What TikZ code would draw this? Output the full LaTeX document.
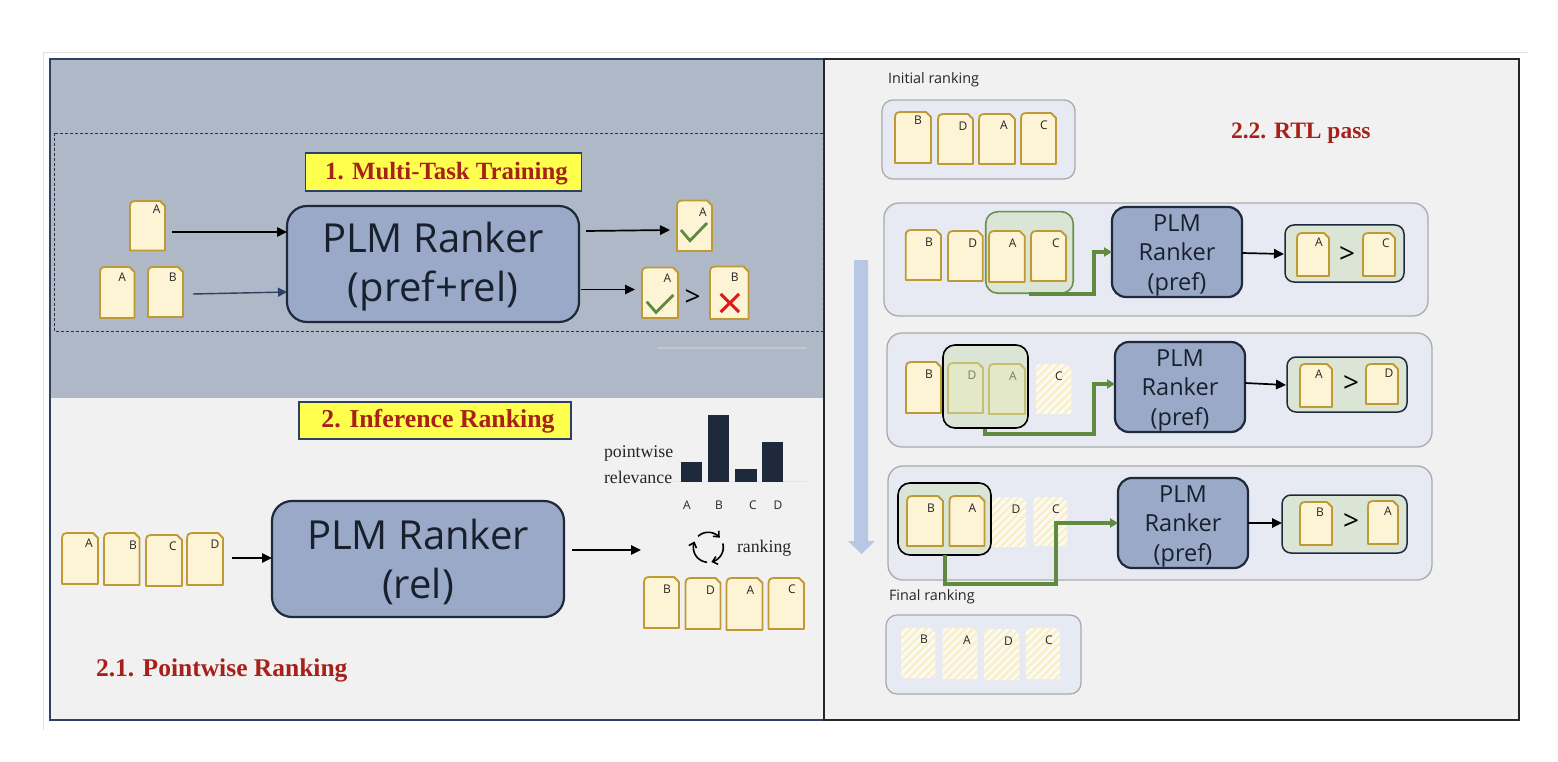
\documentclass[tikz,border=0pt]{standalone}
\usepackage{fontspec}
\setmainfont{Open Sans}
\newfontfamily\ttlfont{Liberation Serif}
\usetikzlibrary{arrows.meta,patterns.meta}
\definecolor{panelA}{HTML}{AEB8C7}
\definecolor{panelB}{HTML}{F1F1F1}
\definecolor{navy}{HTML}{2E4066}
\definecolor{rankfill}{HTML}{9BA9C8}
\definecolor{rankline}{HTML}{1E2A3C}
\definecolor{ranktext}{HTML}{18202E}
\definecolor{docfill}{HTML}{FDF3D5}
\definecolor{docline}{HTML}{BF9A34}
\definecolor{fadefill}{HTML}{E2E8C8}
\definecolor{fadeline}{HTML}{C8BE70}
\definecolor{fadetext}{HTML}{6F7F68}
\definecolor{rowfill}{HTML}{E7EAF3}
\definecolor{rowline}{HTML}{ABABAB}
\definecolor{grnfill}{HTML}{DBE5D6}
\definecolor{grnline}{HTML}{6A8F4F}
\definecolor{grnarrow}{HTML}{5F8A3F}
\definecolor{titlered}{HTML}{A8201A}
\definecolor{yellowbox}{HTML}{FFFF4D}
\definecolor{hatchc}{HTML}{FAEFC4}
\definecolor{hatchb}{HTML}{FBFAF5}
\definecolor{bluearrow}{HTML}{B8C7E4}
\tikzset{
  every node/.style={inner sep=0pt,outer sep=0pt},
  anchorbox/.style={anchor=north west,draw=none,fill=none},
  ranklg/.style={draw=rankline,line width=2.2pt,fill=rankfill,rounded corners=20pt,anchor=north west,align=center,text=ranktext,font=\fontsize{40}{48}\selectfont},
  ranksm/.style={draw=rankline,line width=2.2pt,fill=rankfill,rounded corners=14pt,anchor=north west,align=center,text=ranktext,font=\fontsize{23.5}{29.5}\selectfont},
  rowbox/.style={draw=rowline,line width=1.3pt,fill=rowfill,rounded corners=15pt,anchor=north west},
  greenbox/.style={draw=grnline,line width=1.6pt,fill=grnfill,rounded corners=12pt,anchor=north west},
  blackgreen/.style={draw=black,line width=1.6pt,fill=grnfill,rounded corners=12pt,anchor=north west},
  resbox/.style={draw=rankline,line width=1.5pt,fill=grnfill,rounded corners=9pt,anchor=north west},
  ylabel/.style={draw=navy,line width=1.2pt,fill=yellowbox,anchor=north west,text=titlered},
  redtitle/.style={text=titlered,anchor=west},
  sertext/.style={text=black!85,font=\fontsize{17.8}{20}\ttlfont,anchor=west},
  lbl/.style={font=\fontsize{12}{14}\selectfont,text=black!85},
  sans/.style={font=\fontsize{14.4}{16}\selectfont,text=black!85,anchor=west},
  gt/.style={font=\fontsize{28}{30}\selectfont,text=black},
  blk/.style={-{Triangle[length=10pt,width=9.5pt]},line width=1.7pt,draw=black},
  navyarrow/.style={-{Triangle[length=9pt,width=9pt]},line width=1.4pt,draw=navy},
  grn/.style={-{Triangle[length=8pt,width=9pt]},line width=3.1pt,draw=grnarrow},
  docn/.style={line width=1.8pt,draw=docline,fill=docfill,line join=round},
  docf/.style={line width=1.8pt,draw=fadeline,fill=fadefill,line join=round},
}
\newcommand{\docpath}[4]{(#1,#2+6) .. controls (#1,#2+1.5) and (#1+1.5,#2) .. (#1+6,#2) -- (#3-5,#2) -- (#3,#2+5) -- (#3,#4) -- (#1,#4) -- cycle}
% [label inset from right][label drop from top]{name}{x0}{y0}{x1}{y1}{letter}
\NewDocumentCommand{\docN}{O{12} O{12} m m m m m m}{%
  \node[anchorbox,minimum width=#6pt-#4pt,minimum height=#7pt-#5pt] (#3) at (#4,#5) {};
  \draw[docn] \docpath{#4}{#5}{#6}{#7};
  \node[lbl] (#3-l) at (#6-#1,#5+#2) {#8};
}
\NewDocumentCommand{\docF}{O{12} O{12} m m m m m m}{%
  \node[anchorbox,minimum width=#6pt-#4pt,minimum height=#7pt-#5pt] (#3) at (#4,#5) {};
  \draw[docf] \docpath{#4}{#5}{#6}{#7};
  \node[lbl,text=fadetext] (#3-l) at (#6-#1,#5+#2) {#8};
}
\NewDocumentCommand{\docH}{O{12} O{12} m m m m m m}{%
  \node[anchorbox,minimum width=#6pt-#4pt,minimum height=#7pt-#5pt] (#3) at (#4,#5) {};
  \fill[hatchb] \docpath{#4}{#5}{#6}{#7};
  \fill[pattern={Lines[angle=45,distance=5.5pt,line width=2.3pt]},pattern color=hatchc] \docpath{#4}{#5}{#6}{#7};
  \node[lbl] (#3-l) at (#6-#1,#5+#2) {#8};
}
\begin{document}
\begin{tikzpicture}[x=1pt,y=-1pt]
\useasboundingbox (0,0) rectangle (1558,762);
\fill[white] (0,0) rectangle (1558,762);
% faint page frame
\draw[black!12,line width=.8pt] (43,730) -- (43,52) -- (1528,52);
% panels
\fill[panelB] (50,59) rectangle (1519,720);
\fill[panelA] (50,59) rectangle (824,398);
\draw[navy,line width=1.5pt] (824,59) -- (50,59) -- (50,720) -- (824,720);
\draw[black!85,line width=1.2pt] (824,59) rectangle (1519,720);
\draw[black!80,line width=.8pt,dash pattern=on 3pt off 2pt] (54,133) rectangle (823,331);
\draw[black!12!panelA!60!white,line width=1.2pt] (657,348) -- (807,348);

% titles
\node[ylabel,minimum width=276pt,minimum height=38pt,font=\fontsize{24.8}{28}\ttlfont\bfseries] (t1) at (305.5,153) {\hspace*{6pt}\smash{\raisebox{-7.5pt}{1. Multi-Task Training}}};
\node[ylabel,minimum width=272pt,minimum height=37pt,font=\fontsize{25.8}{28}\ttlfont\bfseries] (t2) at (299,402) {\hspace*{6pt}\smash{\raisebox{-7pt}{2. Inference Ranking}}};
\node[redtitle,font=\fontsize{25.5}{28}\ttlfont\bfseries] (t21) at (96,670) {2.1. Pointwise Ranking};
\node[redtitle,font=\fontsize{23.5}{28}\ttlfont\bfseries] (t22) at (1231,133) {2.2. RTL pass};

% multi-task training
\node[ranklg,minimum width=292pt,minimum height=116pt] (r1) at (287,206) {\rule{0pt}{36.6pt}PLM Ranker\\[1pt](pref+rel)};
\docN[8.3][8]{da}{130}{201}{165}{250.5}{A}
\docN[12.3][10]{db}{100}{267}{134.5}{318}{A}
\docN[10.3][10]{dc}{148}{267}{183}{317}{B}
\coordinate (a1s) at (172,232);
\coordinate (a2s) at (193,294);
\coordinate (a2e) at (287,292);
\draw[blk] (a1s) -- (r1.west |- a1s);
\draw[navyarrow] (a2s) -- (a2e);
\coordinate (a3s) at (586,231);
\coordinate (a3e) at (670,230);
\coordinate (a4s) at (581,289.5);
\coordinate (a4e) at (635,289.5);
\draw[blk] (a3s) -- (a3e);
\draw[blk] (a4s) -- (a4e);
\docN[9][11.5]{oa}{677}{200.5}{712}{251}{A}
\docN[10.7][11]{ob}{642}{267.5}{678}{318}{A}
\docN[13.8][10.3]{oc}{710}{266.5}{748.5}{319}{B}
\node[gt] (ogt) at (692.7,298) {>};
\draw[grnarrow,line width=2.8pt] (681,230) -- (690,240.7) -- (707,223);
\draw[grnarrow,line width=2.8pt] (646.7,301.7) -- (656,312.3) -- (673.3,295);
\draw[red!85!black!90,line width=3pt] (720.7,294) -- (739,312) (739,294) -- (720.7,312);

% pointwise ranking
\node[ranklg,minimum width=292pt,minimum height=116pt] (r2) at (272,501) {\rule{0pt}{36.6pt}PLM Ranker\\[1pt](rel)};
\docN[9][10]{pa}{62}{533}{98}{584}{A}
\docN[6.5][12]{pb}{104}{533}{139.5}{585}{B}
\docN[9][11]{pc}{146}{535}{182}{586}{C}
\docN[8][11]{pd}{187}{533}{223}{585}{D}
\coordinate (a5s) at (232,558);
\coordinate (a6s) at (572,550);
\coordinate (a6e) at (641,550);
\draw[blk] (a5s) -- (r2.west |- a5s);
\draw[blk] (a6s) -- (a6e);
\docN{qa}{644}{577}{679}{628}{B}
\docN[10][12]{qb}{685.5}{578}{720.5}{629}{D}
\docN{qc}{726.5}{578}{762.5}{630}{A}
\docN[12][11.5]{qd}{768.5}{578}{804}{629}{C}
% bar chart
\draw[black!10,line width=.8pt] (673,481) -- (807,481);
\fill[rankline] (681,462) rectangle (702.3,481.5);
\fill[rankline] (708.3,415) rectangle (729.3,481.5);
\fill[rankline] (735,468.7) rectangle (756.7,481.5);
\fill[rankline] (762.3,442) rectangle (783.3,481.5);
\node[lbl] (ba) at (687,505) {A};
\node[lbl] (bb) at (719,505) {B};
\node[lbl] (bc) at (753,505) {C};
\node[lbl] (bd) at (778,505) {D};
\node[sertext] (pw1) at (604,453) {pointwise};
\node[sertext] (pw2) at (604,477) {relevance};
\node[sertext] (rk) at (737,548) {ranking};
% cycle icon
\foreach \aa/\ab in {95/203,227/320,345/438}{
  \draw[black,line width=1.6pt,-{Straight Barb[length=4.5pt,width=8pt]}] plot[domain=\aa:\ab,samples=14] ({708.3+15*cos(\x)},{547.3+15*sin(\x)});
}

% RTL pass
\node[sans] (ini) at (888,80) {Initial ranking};
\node[rowbox,minimum width=193pt,minimum height=79pt,rounded corners=11pt] (ib) at (882,100) {};
\docN[13][8.5]{ia}{895}{112}{931}{163}{B}
\docN[10][12]{ic}{938}{114}{973}{164}{D}
\docN[11][11]{id}{979}{114}{1015}{164}{A}
\docN[12][12]{ie}{1021}{113}{1056}{164}{C}

\node[sans] (fin) at (889,597) {Final ranking};
\node[rowbox,minimum width=195pt,minimum height=79pt,rounded corners=11pt] (fb) at (886,615) {};
\docH[11][11.5]{fa}{901}{628}{935}{678}{B}
\docH[10][12.5]{fc}{942.5}{628}{977}{679}{A}
\docH[10.5][12]{fd}{984}{629}{1019}{680}{D}
\docH[11][12.5]{fe}{1026}{628}{1060}{679}{C}

% big downward arrow
\fill[bluearrow] (854,260) -- (868,260) -- (868,541) -- (875,541) -- (861.5,554) -- (848,541) -- (854,541) -- cycle;

% row 1
\node[rowbox,minimum width=544pt,minimum height=113pt] (row1) at (884,203) {};
\docN{a1}{905.7}{230}{941}{280}{B}
\docN[10][12]{a2}{948}{231}{982.7}{281}{D}
\node[greenbox,minimum width=87.5pt,minimum height=81.5pt] (g1) at (985.7,211.7) {};
\docN{a3}{989}{231}{1024.7}{282}{A}
\docN[10][12]{a4}{1031}{231}{1066}{281}{C}
\node[ranksm,minimum width=130pt,minimum height=90pt] (s1) at (1112,207) {\rule{0pt}{23pt}PLM\\Ranker\\(pref)};
\coordinate (k1) at (1029,294);
\coordinate (k1b) at (1094,252);
\draw[grn] (k1) -| (k1b) -- (s1.west |- k1b);
\coordinate (b1) at (1243,253);
\coordinate (b1e) at (1284,254);
\draw[blk] (s1.east |- b1) -- (b1e);
\node[resbox,minimum width=119pt,minimum height=57pt] (x1) at (1285,225) {};
\docN[10][9.5]{a5}{1297}{233}{1329}{276}{A}
\node[gt] (a6g) at (1347,255) {>};
\docN[9][10]{a7}{1363}{233}{1395}{276}{C}

% row 2
\node[rowbox,minimum width=545pt,minimum height=114pt] (row2) at (887,333) {};
\docN{c1}{906}{362}{941}{413}{B}
\node[blackgreen,minimum width=85pt,minimum height=83pt] (g2) at (943,345) {};
\docF[11][12]{c2}{948}{363}{983}{413}{D}
\docF[12][12]{c3}{989}{364}{1025}{414}{A}
\docH[12][12]{c4}{1036}{364}{1071}{414}{C}
\node[ranksm,minimum width=130pt,minimum height=90pt] (s2) at (1115,342) {\rule{0pt}{23pt}PLM\\Ranker\\(pref)};
\coordinate (k2) at (985,429);
\coordinate (k2a) at (985,434);
\coordinate (k2b) at (1094,384);
\draw[grn] (k2) -- (k2a) -| (k2b) -- (s2.west |- k2b);
\coordinate (b2) at (1246,383);
\coordinate (b2e) at (1286,385);
\draw[blk] (s2.east |- b2) -- (b2e);
\node[resbox,minimum width=120pt,minimum height=55pt] (x2) at (1287,357) {};
\docN[13][10]{c5}{1300}{364}{1332}{407}{A}
\node[gt] (c6g) at (1351,384) {>};
\docN[9][9]{c7}{1366}{364}{1398}{404}{D}

% row 3
\node[rowbox,minimum width=544pt,minimum height=114pt] (row3) at (888,466) {};
\node[blackgreen,minimum width=93pt,minimum height=72pt] (g3) at (898,483) {};
\docN{e1}{907}{496}{943}{546}{B}
\docN{e2}{949.5}{496}{984.5}{546}{A}
\docH[10][12]{e3}{992}{497}{1026}{547}{D}
\docH[11][12]{e4}{1033.5}{497}{1067}{546}{C}
\node[ranksm,minimum width=130pt,minimum height=90pt] (s3) at (1118,478) {\rule{0pt}{23pt}PLM\\Ranker\\(pref)};
\coordinate (k3) at (945,555);
\coordinate (k3a) at (945,584);
\coordinate (k3b) at (1056,523);
\draw[grn] (k3) -- (k3a) -| (k3b) -- (s3.west |- k3b);
\coordinate (b3) at (1250,523);
\coordinate (b3e) at (1282,523);
\draw[blk] (s3.east |- b3) -- (b3e);
\node[resbox,minimum width=125pt,minimum height=58pt] (x3) at (1282,495) {};
\docN[12][10]{e5}{1300}{502}{1332}{545}{B}
\node[gt] (e6g) at (1351,522) {>};
\docN[10][10]{e7}{1368}{501}{1398}{544}{A}
\end{tikzpicture}
\end{document}
